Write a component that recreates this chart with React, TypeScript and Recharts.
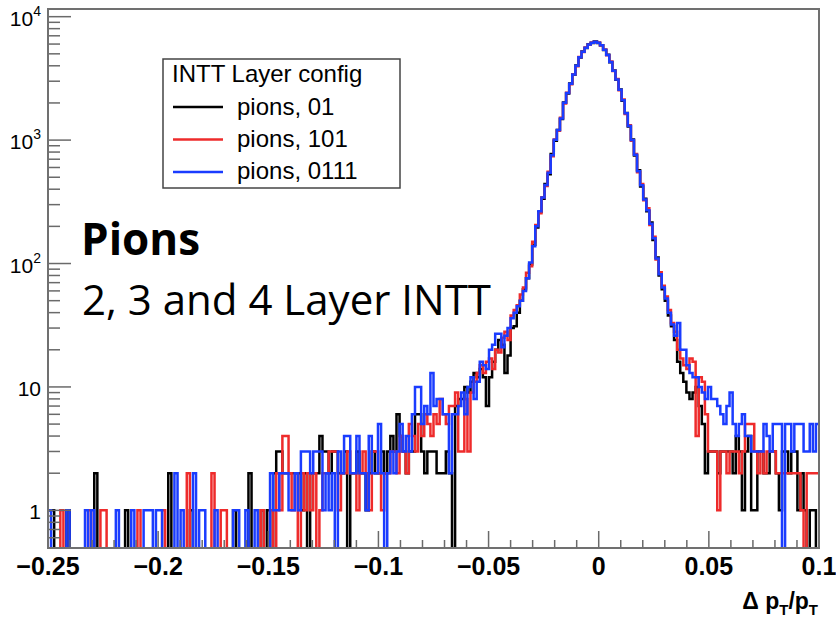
import React from "react";
import { LineChart, Line, XAxis, YAxis } from "recharts";

// Histogram binning: 250 bins of width 0.0014 from -0.25 to 0.1
const BIN_START = -0.25;
const BIN_WIDTH = 0.0014;

// Counts per bin, "pions, 01"
const pions01 = [
  1,1,0,0,0,0,1,0,0,0,
  0,0,0,0,0,2,0,0,0,0,
  0,0,0,0,0,1,0,0,0,0,
  0,0,0,0,0,0,0,0,0,2,
  0,0,0,0,0,0,1,0,0,0,
  0,0,0,0,0,0,0,0,0,0,
  1,0,0,0,0,2,0,0,0,1,
  0,1,0,2,3,3,2,2,2,2,
  2,2,1,2,0,2,2,2,4,3,
  3,2,3,3,2,2,3,0,2,2,
  3,2,2,1,2,3,2,2,3,2,
  3,4,3,6,4,3,2,3,3,6,
  6,3,2,3,3,3,2,2,2,3,
  2,0,7,8,8,10,9,11,13,12,
  14,12,7,12,16,20,24,22,13,18,
  30,31,40,50,62,76,98,142,196,262,
  335,440,530,770,990,1210,1480,2020,2380,2870,
  3380,4030,4680,5230,5580,5980,6120,6280,6130,5880,
  5380,4920,4280,3670,3080,2570,2080,1660,1290,1010,
  750,570,420,335,265,215,155,112,80,62,
  50,38,31,24,16,13,11,9,8,9,
  10,7,5,2,3,3,3,2,3,3,
  3,3,2,4,3,1,3,4,1,1,
  3,3,2,2,3,3,2,1,3,3,
  2,3,3,1,2,1,0,1,1,0,
];

// Counts per bin, "pions, 101"
const pions101 = [
  0,0,0,0,1,0,0,0,0,0,
  0,0,0,1,0,0,0,1,1,0,
  0,0,0,0,0,0,0,0,0,1,
  0,0,0,0,0,0,0,1,0,0,
  0,0,0,0,0,2,0,0,0,0,
  0,0,0,2,0,0,1,1,0,0,
  0,0,0,0,0,0,0,0,0,1,
  0,0,1,0,2,1,4,4,2,1,
  2,0,2,1,2,1,2,0,1,2,
  2,3,3,3,1,2,2,3,2,2,
  1,2,3,2,1,3,3,2,1,2,
  2,3,3,2,4,3,2,5,4,3,
  5,4,6,5,4,6,5,8,6,5,
  7,7,9,3,3,8,3,9,11,13,
  15,13,16,17,14,20,19,25,28,24,
  38,42,46,56,64,84,95,150,205,255,
  345,425,555,740,1010,1190,1520,1980,2420,2830,
  3420,3970,4720,5180,5640,5920,6180,6230,6170,5830,
  5420,4870,4330,3630,3120,2530,2130,1630,1320,990,
  770,550,440,325,280,205,165,108,85,66,
  54,42,33,28,20,17,15,14,17,16,
  4,12,11,6,3,3,3,1,3,3,
  2,3,3,3,2,3,5,5,5,3,
  2,3,2,3,3,3,2,2,2,2,
  2,2,2,2,1,0,2,2,2,2,
];

// Counts per bin, "pions, 0111"
const pions0111 = [
  1,0,0,0,0,0,1,0,0,0,
  0,0,1,0,1,0,0,0,0,0,
  0,0,1,0,0,0,0,1,0,0,
  0,1,1,1,0,1,1,0,0,0,
  0,2,0,1,0,0,0,2,0,1,
  1,0,0,0,1,0,0,0,0,0,
  1,1,0,0,1,0,0,1,0,0,
  0,0,2,1,1,2,2,2,1,1,
  2,1,3,3,3,2,3,3,3,1,
  2,1,2,0,3,2,4,4,2,2,
  4,2,2,1,4,2,2,5,2,0,
  2,3,2,3,5,3,4,3,6,10,
  10,5,7,6,13,7,8,8,6,6,
  2,6,6,7,9,6,10,12,8,11,
  16,15,14,20,22,27,27,21,26,30,
  36,40,45,50,60,76,102,138,200,265,
  342,432,545,755,1005,1205,1495,2010,2410,2860,
  3400,4010,4700,5200,5610,5960,6160,6260,6150,5860,
  5400,4900,4300,3650,3100,2560,2100,1650,1300,1000,
  760,560,430,330,270,210,160,110,82,64,
  52,40,32,26,33,20,20,15,13,12,
  12,10,9,8,10,8,8,7,6,5,
  7,9,5,4,5,6,4,4,3,3,
  3,3,5,4,3,5,5,5,0,5,
  5,3,5,5,5,3,3,5,3,5,
];

const seriesNames = ["pions, 01", "pions, 101", "pions, 0111"];
const seriesColors = ["#000000", "#ee2b2b", "#1a3cff"];

const X_DOMAIN: [number, number] = [-0.25, 0.1];
const Y_DOMAIN: [number, number] = [0.4955, 11540];

const xMajorTicks = [-0.25, -0.2, -0.15, -0.1, -0.05, 0, 0.05, 0.1];
const xMajorLabels = ["\u22120.25", "\u22120.2", "\u22120.15", "\u22120.1", "\u22120.05", "0", "0.05", "0.1"];
const xMinorTicks = [
  -0.24, -0.23, -0.22, -0.21, -0.19, -0.18, -0.17, -0.16, -0.14, -0.13, -0.12, -0.11,
  -0.09, -0.08, -0.07, -0.06, -0.04, -0.03, -0.02, -0.01, 0.01, 0.02, 0.03, 0.04,
  0.06, 0.07, 0.08, 0.09,
];

const yMajorTicks = [1, 10, 100, 1000, 10000];
const yMajorBase = ["1", "10", "10", "10", "10"];
const yMajorExp = ["", "", "2", "3", "4"];
const yMinorTicks = [
  0.6, 0.7, 0.8, 0.9,
  2, 3, 4, 5, 6, 7, 8, 9,
  20, 30, 40, 50, 60, 70, 80, 90,
  200, 300, 400, 500, 600, 700, 800, 900,
  2000, 3000, 4000, 5000, 6000, 7000, 8000, 9000,
];

const ZERO_FLOOR = 0.3; // empty bins drop below the frame (clipped)

const chartData = Array.from({ length: pions01.length + 1 }, (_, k) => {
  const j = Math.min(k, pions01.length - 1);
  const f = (v: number) => (v > 0 ? v : ZERO_FLOOR);
  return {
    x: BIN_START + k * BIN_WIDTH,
    s0: f(pions01[j]),
    s1: f(pions101[j]),
    s2: f(pions0111[j]),
  };
});

const AXIS_FONT = "'Liberation Sans', Arial, Helvetica, sans-serif";
const TICK_COLOR = "#6a6a6a";

const XTick = (props: any) => {
  const { x, y, payload } = props;
  const v = payload.value;
  const idx = xMajorTicks.findIndex((m) => Math.abs(m - v) < 1e-9);
  const major = idx >= 0;
  return (
    <g>
      <line x1={x} x2={x} y1={y} y2={y - (major ? 17 : 8)} stroke={TICK_COLOR} strokeWidth={1.5} />
      {major && (
        <text x={x} y={y + 27} textAnchor="middle" fontFamily={AXIS_FONT} fontWeight="bold" fontSize={25} fill="#000">
          {xMajorLabels[idx]}
        </text>
      )}
    </g>
  );
};

const YTick = (props: any) => {
  const { x, y, payload } = props;
  const v = payload.value;
  const idx = yMajorTicks.findIndex((m) => Math.abs(m - v) < 1e-9);
  const major = idx >= 0;
  return (
    <g>
      <line x1={x} x2={x + (major ? 23 : 12)} y1={y} y2={y} stroke={TICK_COLOR} strokeWidth={1.5} />
      {major && (
        <text x={x - 7} y={y + 9} textAnchor="end" fontFamily={AXIS_FONT} fontSize={21} fill="#000">
          {yMajorBase[idx]}
          {yMajorExp[idx] && (
            <tspan fontSize={14} dy={-10}>
              {yMajorExp[idx]}
            </tspan>
          )}
        </text>
      )}
    </g>
  );
};

export default function App() {
  const W = 836;
  const H = 621;
  return (
    <div style={{ position: "absolute", left: 0, top: 0, width: W, height: H, background: "#fff" }}>
      <LineChart width={W} height={H} data={chartData} margin={{ top: 9, right: 17, bottom: 0, left: 0 }}>
        <XAxis
          dataKey="x"
          type="number"
          domain={X_DOMAIN}
          allowDataOverflow
          ticks={[...xMajorTicks, ...xMinorTicks]}
          interval={0}
          tick={(p: any) => <XTick {...p} />}
          tickLine={false}
          tickSize={0}
          tickMargin={0}
          axisLine={false}
          height={73}
        />
        <YAxis
          type="number"
          scale="log"
          domain={Y_DOMAIN}
          allowDataOverflow
          ticks={[...yMajorTicks, ...yMinorTicks]}
          interval={0}
          tick={(p: any) => <YTick {...p} />}
          tickLine={false}
          tickSize={0}
          tickMargin={0}
          axisLine={false}
          width={48}
        />
        <Line type="stepAfter" dataKey="s0" name={seriesNames[0]} stroke={seriesColors[0]} strokeWidth={2.5} dot={false} isAnimationActive={false} />
        <Line type="stepAfter" dataKey="s1" name={seriesNames[1]} stroke={seriesColors[1]} strokeWidth={2.5} dot={false} isAnimationActive={false} />
        <Line type="stepAfter" dataKey="s2" name={seriesNames[2]} stroke={seriesColors[2]} strokeWidth={2.5} dot={false} isAnimationActive={false} />
      </LineChart>
      <svg width={W} height={H} style={{ position: "absolute", left: 0, top: 0, pointerEvents: "none" }}>
        {/* frame */}
        <rect x={48} y={9} width={771} height={539} fill="none" stroke="#707070" strokeWidth={2} />
        {/* legend */}
        <rect x={163} y={59} width={237} height={129} fill="#fff" stroke="#444" strokeWidth={1.5} />
        <text x={172} y={82} fontFamily={AXIS_FONT} fontSize={24} fill="#000">INTT Layer config</text>
        {seriesNames.map((n, i) => (
          <g key={n}>
            <line x1={173} x2={223} y1={107 + i * 32.5} y2={107 + i * 32.5} stroke={seriesColors[i]} strokeWidth={2.5} />
            <text x={237} y={115 + i * 32} fontFamily={AXIS_FONT} fontSize={24} fill="#000">{n}</text>
          </g>
        ))}
        {/* annotations */}
        <text x={81} y={255} fontFamily="'Open Sans', 'Noto Sans', sans-serif" fontWeight="bold" fontSize={44} fill="#000">Pions</text>
        <text x={82} y={315} fontFamily="'Open Sans', 'Noto Sans', sans-serif" fontSize={42} fill="#000">2, 3 and 4 Layer INTT</text>
        {/* x-axis title */}
        <text x={818} y={609} textAnchor="end" fontFamily={AXIS_FONT} fontWeight="bold" fontSize={23} fill="#000">
          {"\u0394 p"}
          <tspan fontSize={15} dy={6}>T</tspan>
          <tspan dy={-6}>/p</tspan>
          <tspan fontSize={15} dy={6}>T</tspan>
        </text>
      </svg>
    </div>
  );
}
